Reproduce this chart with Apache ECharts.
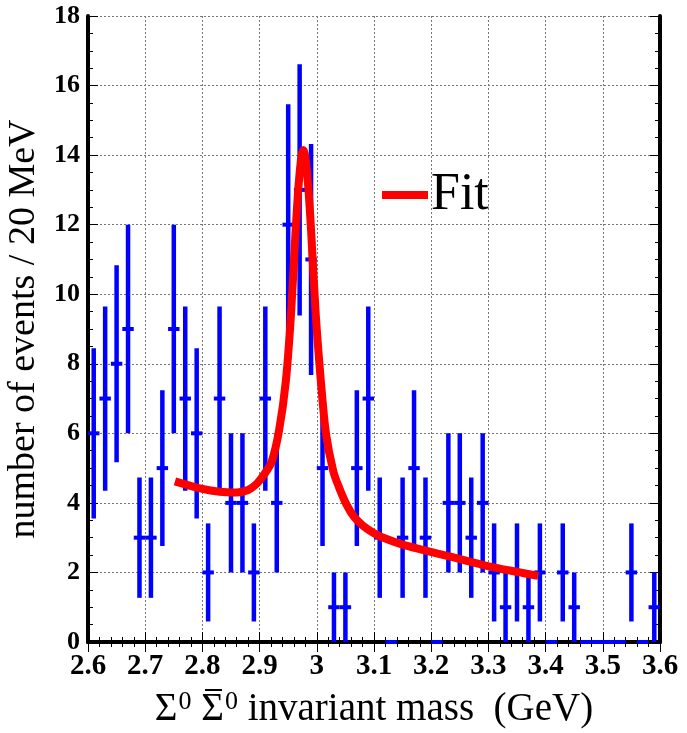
<!DOCTYPE html>
<html>
<head>
<meta charset="utf-8">
<script src="https://cdn.jsdelivr.net/npm/echarts@6/dist/echarts.min.js"></script>
<style>
  html, body { margin: 0; padding: 0; background: #fff; }
  #chart { width: 687px; height: 733px; }
</style>
</head>
<body>
<div id="chart"></div>
<script>
// Bin centres (20 MeV bins) and event counts
const binCenters = [2.61, 2.63, 2.65, 2.67, 2.69, 2.71, 2.73, 2.75, 2.77, 2.79,
                    2.81, 2.83, 2.85, 2.87, 2.89, 2.91, 2.93, 2.95, 2.97, 2.99,
                    3.01, 3.03, 3.05, 3.07, 3.09, 3.11, 3.13, 3.15, 3.17, 3.19,
                    3.21, 3.23, 3.25, 3.27, 3.29, 3.31, 3.33, 3.35, 3.37, 3.39,
                    3.41, 3.43, 3.45, 3.47, 3.49, 3.51, 3.53, 3.55, 3.57, 3.59];
const counts = [6, 7, 8, 9, 3, 3, 5, 9, 7, 6,
                2, 7, 4, 4, 2, 7, 4, 12, 13, 11,
                5, 1, 1, 5, 7, 3, 0, 3, 5, 3,
                0, 4, 4, 3, 4, 2, 1, 2, 1, 2,
                0, 2, 1, 0, 0, 0, 0, 2, 0, 1];
// Half-length of each error bar
const errors = [2.45, 2.65, 2.83, 3.0, 1.73, 1.73, 2.24, 3.0, 2.65, 2.45,
                1.41, 2.65, 2.0, 2.0, 1.41, 2.65, 2.0, 3.46, 3.61, 3.32,
                2.24, 1.0, 1.0, 2.24, 2.65, 1.73, 0, 1.73, 2.24, 1.73,
                0, 2.0, 2.0, 1.73, 2.0, 1.41, 1.0, 1.41, 1.0, 1.41,
                0, 1.41, 1.0, 0, 0, 0, 0, 1.41, 0, 1.0];
// Fit curve
const fitX = [2.752, 2.80, 2.83, 2.86, 2.88, 2.895, 2.908, 2.921, 2.934, 2.946,
              2.955, 2.963, 2.968, 2.973, 2.9765, 2.980, 2.985, 2.990, 2.998, 3.007,
              3.016, 3.029, 3.04, 3.052, 3.065, 3.081, 3.10, 3.122, 3.15, 3.18,
              3.239, 3.297, 3.355, 3.387];
const fitY = [4.62, 4.40, 4.32, 4.30, 4.37, 4.55, 4.82, 5.18, 6.08, 7.52,
              9.45, 11.84, 13.1, 13.95, 14.15, 13.95, 13.1, 11.84, 9.45, 7.52,
              6.0, 4.9, 4.4, 3.95, 3.6, 3.34, 3.13, 2.96, 2.8, 2.67,
              2.43, 2.19, 2.0, 1.9];
const xTicks = { min: 2.6, max: 3.6, step: 0.1 };
const yTicks = { min: 0, max: 18, step: 2 };

const histData = binCenters.map((c, i) => [c, counts[i], errors[i]]);
const fitData = fitX.map((x, i) => [x, fitY[i]]);

const serif = "'Liberation Serif', 'DejaVu Serif', serif";
const chart = echarts.init(document.getElementById('chart'));

const axisLineStyle = { lineStyle: { color: '#000', width: 4 } };
const splitLineStyle = { show: true, lineStyle: { color: '#777', width: 1, type: [2, 2] } };
const tickStyle = { inside: true, length: 10, lineStyle: { color: '#000', width: 1 } };

chart.setOption({
  animation: false,
  backgroundColor: '#fff',
  grid: { left: 88, right: 27, top: 16, bottom: 91, outerBoundsMode: 'none', containLabel: false },
  legend: {
    data: ['Fit'],
    left: 377,
    top: 164,
    icon: 'rect',
    itemWidth: 46,
    itemHeight: 8,
    itemGap: 6,
    textStyle: { fontFamily: serif, fontSize: 52, color: '#000', padding: [0, 0, 0, -2] }
  },
  graphic: [{
    // overbar of the anti-Sigma in the x-axis title
    type: 'line',
    shape: { x1: 205, y1: 690, x2: 222, y2: 690 },
    style: { stroke: '#000', lineWidth: 2 },
    silent: true
  }],
  xAxis: [{
    type: 'value', min: xTicks.min, max: xTicks.max, interval: xTicks.step,
    position: 'bottom',
    axisLine: axisLineStyle,
    axisTick: tickStyle,
    minorTick: { show: true, splitNumber: 5, length: 5, lineStyle: { color: '#000', width: 1 } },
    splitLine: splitLineStyle,
    axisLabel: { fontFamily: serif, fontWeight: 'bold', fontSize: 29, color: '#000', margin: 10 },
    name: '{a|Σ}{sup|0}{a| Σ}{sup|0}{a| invariant mass  (GeV)}',
    nameLocation: 'middle',
    nameGap: 47,
    nameTextStyle: {
      fontFamily: serif, fontSize: 39, color: '#000',
      rich: {
        a: { fontFamily: serif, fontSize: 39, lineHeight: 40, verticalAlign: 'bottom', color: '#000' },
        sup: { fontFamily: serif, fontSize: 26, lineHeight: 26, verticalAlign: 'top', padding: [0, 0, 0, 1], color: '#000' }
      }
    }
  }, {
    type: 'value', min: xTicks.min, max: xTicks.max, interval: xTicks.step,
    position: 'top',
    axisLine: axisLineStyle,
    axisTick: tickStyle,
    minorTick: { show: true, splitNumber: 5, length: 5, lineStyle: { color: '#000', width: 1 } },
    splitLine: { show: false },
    axisLabel: { show: false }
  }],
  yAxis: [{
    type: 'value', min: yTicks.min, max: yTicks.max, interval: yTicks.step,
    position: 'left',
    axisLine: axisLineStyle,
    axisTick: tickStyle,
    minorTick: { show: true, splitNumber: 4, length: 5, lineStyle: { color: '#000', width: 1 } },
    splitLine: splitLineStyle,
    axisLabel: { fontFamily: serif, fontWeight: 'bold', fontSize: 26, color: '#000', margin: 8 },
    name: 'number of events / 20 MeV',
    nameLocation: 'middle',
    nameGap: 42,
    nameTextStyle: { fontFamily: serif, fontSize: 38, color: '#000' }
  }, {
    type: 'value', min: yTicks.min, max: yTicks.max, interval: yTicks.step,
    position: 'right',
    axisLine: axisLineStyle,
    axisTick: tickStyle,
    minorTick: { show: true, splitNumber: 4, length: 5, lineStyle: { color: '#000', width: 1 } },
    splitLine: { show: false },
    axisLabel: { show: false }
  }],
  series: [{
    name: 'Data',
    type: 'custom',
    xAxisIndex: 0, yAxisIndex: 0,
    data: histData,
    z: 2,
    renderItem: function (params, api) {
      const x = api.value(0), y = api.value(1), e = api.value(2);
      const half = 0.01;
      const l = api.coord([x - half, y]);
      const r = api.coord([x + half, y]);
      const children = [{
        type: 'line',
        shape: { x1: l[0], y1: l[1], x2: r[0], y2: r[1] },
        style: { stroke: '#0000ff', lineWidth: 4 }
      }];
      if (e > 0) {
        const t = api.coord([x, y + e]);
        const b = api.coord([x, y - e]);
        children.push({
          type: 'line',
          shape: { x1: t[0], y1: t[1], x2: b[0], y2: b[1] },
          style: { stroke: '#0000ff', lineWidth: 4.5 }
        });
      }
      return { type: 'group', children: children };
    }
  }, {
    name: 'Fit',
    type: 'line',
    xAxisIndex: 0, yAxisIndex: 0,
    data: fitData,
    smooth: 0.3,
    showSymbol: false,
    symbol: 'none',
    z: 3,
    lineStyle: { color: '#ff0000', width: 8, join: 'round' },
    itemStyle: { color: '#ff0000' }
  }]
});
</script>
</body>
</html>
